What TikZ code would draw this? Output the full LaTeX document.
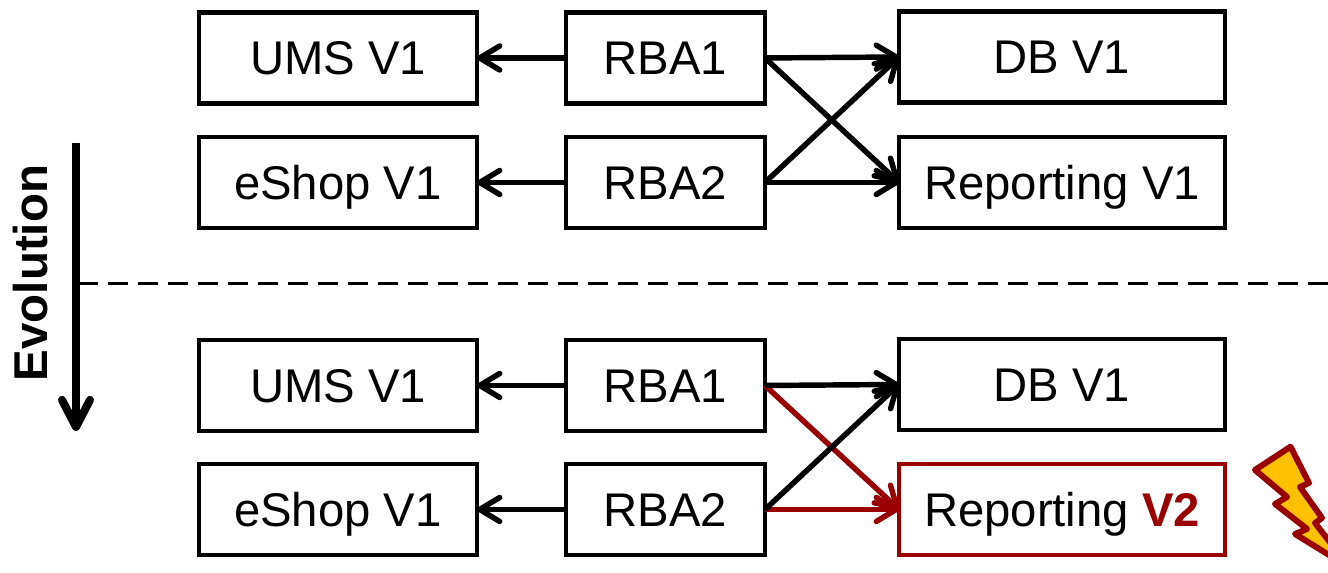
\documentclass[tikz,border=0pt]{standalone}
\usepackage{fontspec}
\setmainfont{Liberation Sans}
\usetikzlibrary{arrows.meta}
\definecolor{dr}{RGB}{153,0,0}
\definecolor{yl}{RGB}{255,192,0}

\tikzset{
    sysbox/.style={draw=black, line width=1.4pt, minimum height=0.91cm, inner sep=0pt, outer sep=0pt,
        text height=0.34cm, text depth=0pt, font=\fontsize{13.45}{16}\selectfont},
    umsbox/.style={sysbox, minimum width=2.78cm},
    rbabox/.style={sysbox, minimum width=1.99cm},
    dbbox/.style={sysbox, minimum width=3.26cm},
    callarrow/.style={-{Straight Barb[length=0.2cm,width=0.24cm,line cap=round,round]}, line width=1.55pt, black},
    redarrow/.style={callarrow, dr},
}

\begin{document}
\begin{tikzpicture}

\useasboundingbox (0,0) rectangle (13.28,5.73);

% ── before the evolution ──
\node[umsbox] (umsTop) at (3.38,5.15) {UMS V1};
\node[umsbox] (shopTop) at (3.38,3.905) {eShop V1};
\node[rbabox] (rbaOneTop) at (6.655,5.15) {RBA1};
\node[rbabox] (rbaTwoTop) at (6.655,3.905) {RBA2};
\node[dbbox] (dbTop) at (10.62,5.16) {DB V1};
\node[dbbox] (repTop) at (10.62,3.905) {Reporting V1};

\draw[callarrow] (rbaOneTop) -- (umsTop);
\draw[callarrow] (rbaTwoTop) -- (shopTop);
\draw[callarrow] (rbaOneTop.east) -- (dbTop.west);
\draw[callarrow] (rbaOneTop.east) -- (repTop.west);
\draw[callarrow] (rbaTwoTop.east) -- (dbTop.west);
\draw[callarrow] (rbaTwoTop.east) -- (repTop.west);

% ── separator and evolution arrow ──
\coordinate (sepL) at (0.78,2.895);
\coordinate (sepR) at (13.28,2.895);
\draw[line width=0.65pt, dash pattern=on 0.2cm off 0.1cm] (sepL) -- (sepR);

\coordinate (evoTop) at (0.76,4.30);
\coordinate (evoEnd) at (0.76,1.42);
\draw[-{Straight Barb[length=0.27cm,width=0.28cm,line cap=round,round]}, line width=2.3pt] (evoTop) -- (evoEnd);
\node[rotate=90, font=\fontsize{13.5}{16}\selectfont\bfseries] (evoText) at (0.31,3.0) {Evolution};

% ── after the evolution ──
\node[umsbox] (umsLow) at (3.38,1.875) {UMS V1};
\node[umsbox] (shopLow) at (3.38,0.635) {eShop V1};
\node[rbabox] (rbaOneLow) at (6.655,1.875) {RBA1};
\node[rbabox] (rbaTwoLow) at (6.655,0.635) {RBA2};
\node[dbbox] (dbLow) at (10.62,1.885) {DB V1};
\node[dbbox, draw=dr] (repLow) at (10.62,0.635) {Reporting \textcolor{dr}{\textbf{V2}}};

\draw[callarrow] (rbaOneLow) -- (umsLow);
\draw[callarrow] (rbaTwoLow) -- (shopLow);
\draw[redarrow] (rbaOneLow.east) -- (repLow.west);
\draw[redarrow] (rbaTwoLow.east) -- (repLow.west);
\draw[callarrow] (rbaOneLow.east) -- (dbLow.west);
\draw[callarrow] (rbaTwoLow.east) -- (dbLow.west);

% lightning bolt, cut by the page edge
\begin{scope}
    \clip (0,0) rectangle (13.28,5.73);
    \draw[dr, fill=yl, line width=1.7pt, line join=round]
        (12.55,1.03) -- (12.905,1.263) -- (13.09,0.90) -- (13.00,0.86)
        -- (13.22,0.55) -- (13.15,0.50) -- (13.50,0.05) -- (12.95,0.39)
        -- (13.07,0.44) -- (12.75,0.69) -- (12.87,0.76) -- cycle;
\end{scope}

\end{tikzpicture}
\end{document}
